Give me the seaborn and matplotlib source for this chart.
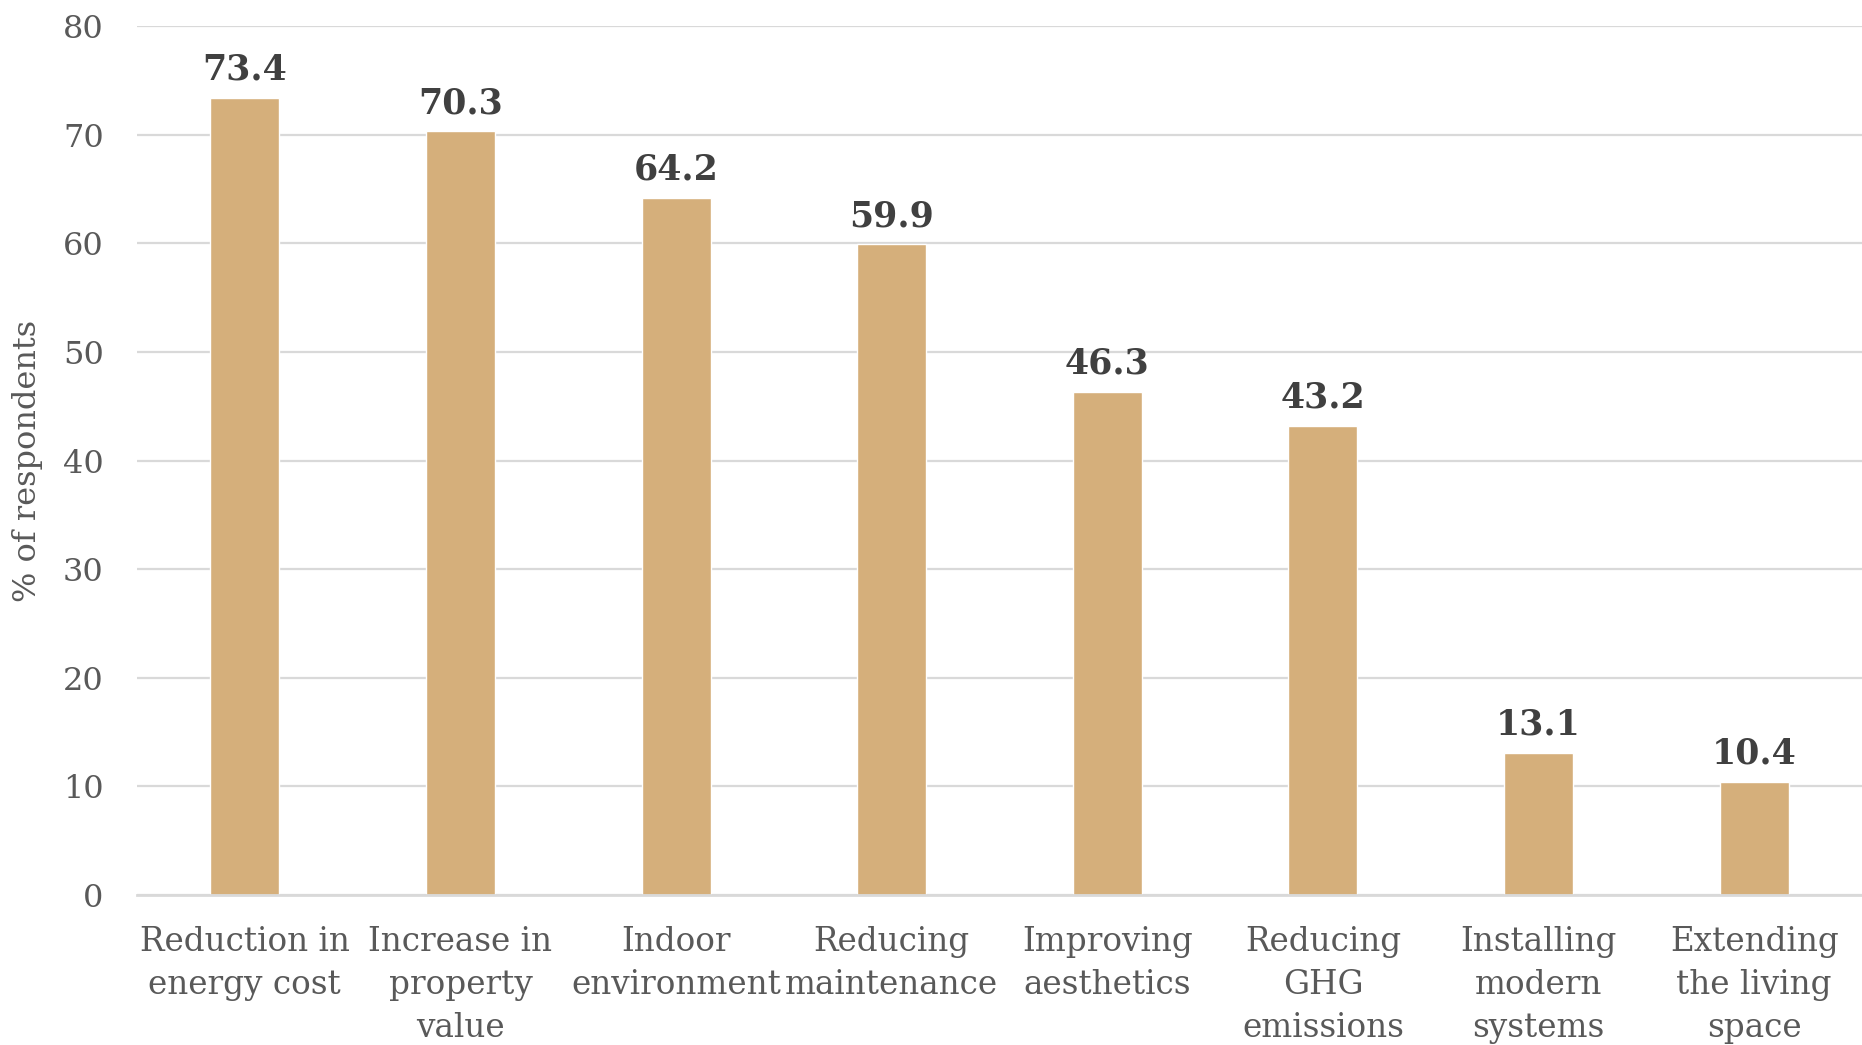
import matplotlib
matplotlib.use("Agg")
import matplotlib.pyplot as plt
import seaborn as sns
import pandas as pd

# Survey results: share of respondents citing each benefit of renovation
categories = [
    "Reduction in\nenergy cost",
    "Increase in\nproperty\nvalue",
    "Indoor\nenvironment",
    "Reducing\nmaintenance",
    "Improving\naesthetics",
    "Reducing\nGHG\nemissions",
    "Installing\nmodern\nsystems",
    "Extending\nthe living\nspace",
]
percentages = [73.4, 70.3, 64.2, 59.9, 46.3, 43.2, 13.1, 10.4]
y_ticks = [0, 10, 20, 30, 40, 50, 60, 70, 80]

df = pd.DataFrame({"benefit": categories, "pct": percentages})

sns.set_theme(style="white")
plt.rcParams["font.family"] = ["DejaVu Serif", "DejaVu Sans"]

BAR = "#D5AF7B"
GRID = "#D9D9D9"
TXT = "#595959"

fig = plt.figure(figsize=(18.62, 10.45), dpi=100)
ax = fig.add_axes([0.0736, 0.1435, 0.9264, 0.8316])

sns.barplot(data=df, x="benefit", y="pct", color=BAR, width=0.32,
            saturation=1, ax=ax, zorder=3)

ax.set_xlim(-0.5, len(categories) - 0.5)
ax.set_ylim(0, 80)
ax.set_yticks(y_ticks)
ax.set_yticklabels([str(v) for v in y_ticks])
ax.yaxis.grid(True, color=GRID, linewidth=1.6, zorder=0)
ax.set_axisbelow(True)

for side in ["top", "right", "left"]:
    ax.spines[side].set_visible(False)
ax.spines["bottom"].set_color(GRID)
ax.spines["bottom"].set_linewidth(2)
ax.spines["bottom"].set_zorder(4)

ax.tick_params(axis="both", length=0, colors=TXT)
ax.tick_params(axis="y", labelsize=23, pad=24)
ax.tick_params(axis="x", labelsize=23.5, pad=22)
for lbl in ax.get_xticklabels():
    lbl.set_linespacing(1.45)

ax.set_ylabel("% of respondents", fontsize=23, color=TXT, labelpad=14)
ax.set_xlabel("Reasons", fontsize=23, color="black", labelpad=12)

ax.bar_label(ax.containers[0], fmt="%.1f", padding=8, fontsize=25,
             fontweight="bold", color="#404040")

fig.savefig("out.png", dpi=100)
